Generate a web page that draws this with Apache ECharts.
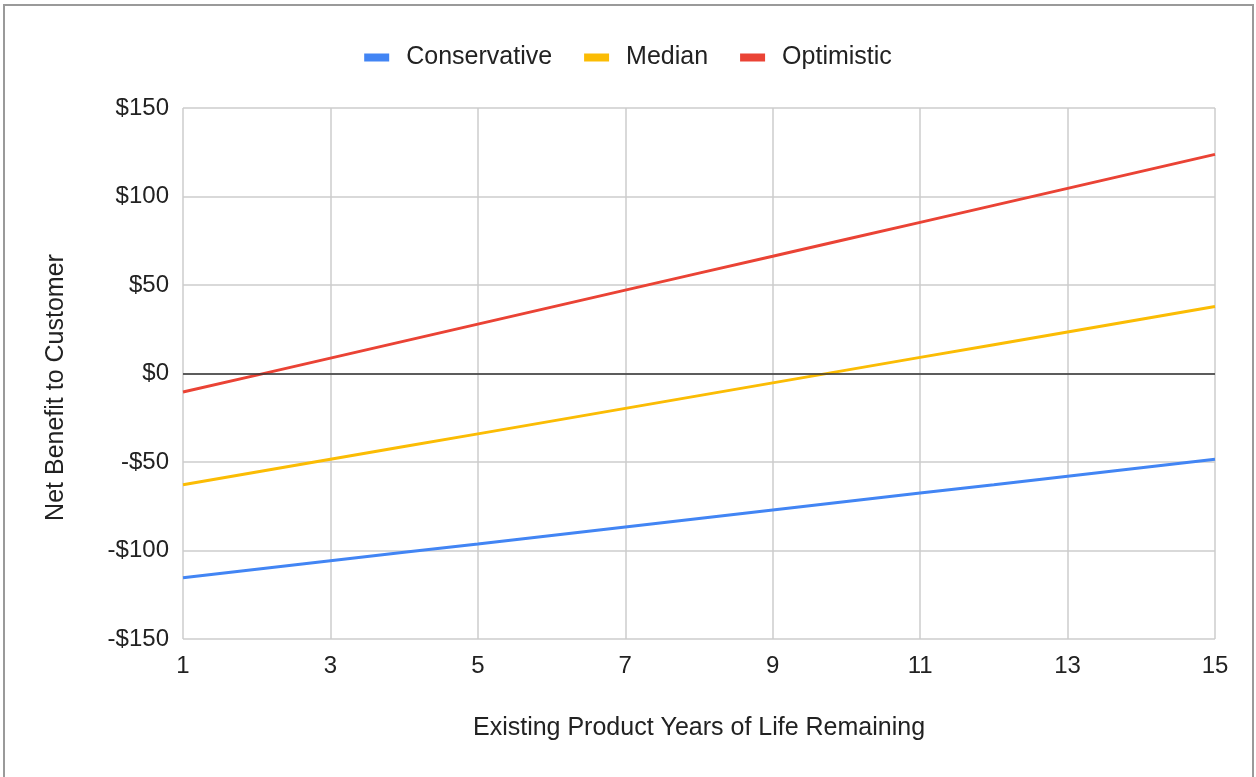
<!DOCTYPE html>
<html>
<head>
<meta charset="utf-8">
<title>Net Benefit to Customer</title>
<script src="https://cdn.jsdelivr.net/npm/echarts@6/dist/echarts.min.js"></script>
<style>
  html, body { margin: 0; padding: 0; background: #ffffff; }
  #frame {
    position: absolute; left: 3px; top: 4px; right: 2px; bottom: -4px;
    border: 2px solid #9a9a9a; box-sizing: border-box;
  }
  #chart { position: absolute; left: 0; top: 0; width: 1256px; height: 777px; }
</style>
</head>
<body>
<div id="frame"></div>
<div id="chart"></div>
<script>
// Years of life remaining on the existing product
const years = ['1','2','3','4','5','6','7','8','9','10','11','12','13','14','15'];

// Net benefit to the customer (dollars) under each scenario
const conservative = [-115.4, -110.6, -105.8, -101.0, -96.3, -91.5, -86.7, -81.9, -77.1, -72.3, -67.5, -62.8, -58.0, -53.2, -48.4];
const median       = [-62.8, -55.6, -48.4, -41.2, -34.1, -26.9, -19.7, -12.5, -5.3, 1.9, 9.1, 16.2, 23.4, 30.6, 37.8];
const optimistic   = [-10.5, -0.9, 8.7, 18.3, 27.9, 37.5, 47.1, 56.7, 66.2, 75.8, 85.4, 95.0, 104.6, 114.2, 123.8];

const seriesNames = ['Conservative', 'Median', 'Optimistic'];
const seriesColors = ['#4285F4', '#FBBC04', '#EA4335'];

const FONT = '"Liberation Sans", Arial, sans-serif';

const chart = echarts.init(document.getElementById('chart'), null, { renderer: 'canvas' });

function lineSeries(name, data, color, extra) {
  return Object.assign({
    name: name,
    type: 'line',
    data: data,
    showSymbol: false,
    symbol: 'none',
    smooth: false,
    lineStyle: { color: color, width: 3 },
    itemStyle: { color: color },
    emphasis: { disabled: true }
  }, extra || {});
}

chart.setOption({
  animation: false,
  textStyle: { fontFamily: FONT },
  legend: {
    top: 40,
    left: 'center',
    itemWidth: 25,
    itemHeight: 8,
    itemGap: 32,
    icon: 'rect',
    data: seriesNames,
    textStyle: { fontFamily: FONT, fontSize: 25, color: '#222', padding: [0, 0, 0, 12] }
  },
  grid: { left: 183, right: 41, top: 108, bottom: 138, containLabel: false },
  xAxis: {
    type: 'category',
    data: years,
    boundaryGap: false,
    name: 'Existing Product Years of Life Remaining',
    nameLocation: 'middle',
    nameGap: 77,
    nameTextStyle: { fontFamily: FONT, fontSize: 25, color: '#222' },
    axisLine: { show: false },
    axisTick: { show: false },
    axisLabel: { interval: 1, margin: 15, fontFamily: FONT, fontSize: 24, color: '#222' },
    splitLine: { show: true, interval: 1, lineStyle: { color: '#cccccc', width: 1.5 } }
  },
  yAxis: {
    type: 'value',
    min: -150,
    max: 150,
    interval: 50,
    name: 'Net Benefit to Customer',
    nameLocation: 'middle',
    nameGap: 114,
    nameRotate: 90,
    nameTextStyle: { fontFamily: FONT, fontSize: 25, color: '#222', padding: [0, 28, 0, 0] },
    axisLine: { show: false },
    axisTick: { show: false },
    axisLabel: {
      margin: 14,
      fontFamily: FONT,
      fontSize: 24,
      color: '#222',
      formatter: v => (v < 0 ? '-$' : '$') + Math.abs(v)
    },
    splitLine: { show: true, lineStyle: { color: '#cccccc', width: 1.5 } }
  },
  series: [
    lineSeries(seriesNames[0], conservative, seriesColors[0], {
      markLine: {
        silent: true,
        symbol: 'none',
        label: { show: false },
        lineStyle: { color: '#333333', width: 1.5, type: 'solid' },
        data: [{ yAxis: 0 }]
      }
    }),
    lineSeries(seriesNames[1], median, seriesColors[1]),
    lineSeries(seriesNames[2], optimistic, seriesColors[2])
  ]
});
</script>
</body>
</html>
